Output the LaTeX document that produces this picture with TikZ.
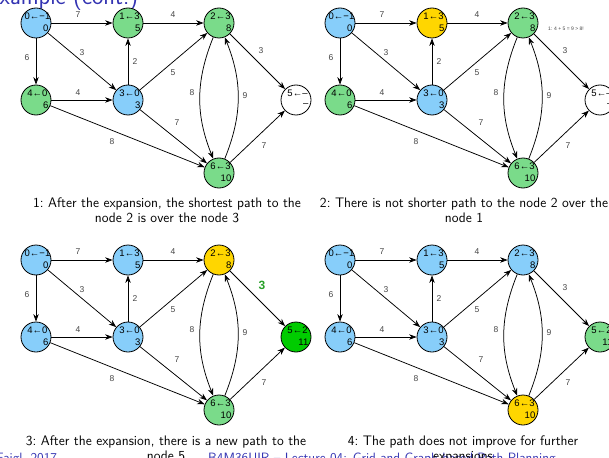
\documentclass[tikz,border=0pt]{standalone}
\usepackage{fontspec}
\newfontfamily\graphfont{Liberation Sans}
\usetikzlibrary{arrows.meta,calc}

\definecolor{vblue}{RGB}{135,206,250}
\definecolor{vgreen}{RGB}{122,219,138}
\definecolor{vgold}{RGB}{255,214,0}
\definecolor{vlime}{RGB}{0,204,0}
\definecolor{hilite}{RGB}{40,160,40}
\definecolor{slideblue}{RGB}{51,51,178}
\definecolor{lblgray}{RGB}{70,70,70}

\tikzset{
  vert/.style={circle,draw=black,line width=0.8pt,minimum size=30pt,inner sep=0pt},
  vtop/.style={font=\graphfont\fontsize{9.5}{10}\selectfont,inner sep=0pt},
  vbot/.style={font=\graphfont\fontsize{9.5}{10}\selectfont,inner sep=0pt,anchor=east},
  link/.style={draw=black,line width=0.75pt,-{Stealth[length=7.5pt,width=5.5pt]}},
  elabel/.style={font=\graphfont\fontsize{8.5}{9}\selectfont,text=lblgray,inner sep=0pt},
  hilabel/.style={font=\graphfont\bfseries\fontsize{12}{12}\selectfont,text=hilite,inner sep=0pt},
  note/.style={font=\graphfont\fontsize{5}{5}\selectfont,text=lblgray,inner sep=0pt},
  capline/.style={font=\sffamily\fontsize{13.8}{15}\selectfont,anchor=base,inner sep=0pt},
  slidetext/.style={text=slideblue,anchor=base west,inner sep=0pt}
}

% one vertex: name, x, y, fill, "id<-parent", cost
\newcommand{\vtx}[6]{%
  \node[vert,fill=#4] (#1) at (#2,#3) {};
  \node[vtop] (#1t) at ($(#1)+(1.5,-7)$) {#5};
  \node[vbot] (#1b) at ($(#1)+(12.5,5.5)$) {#6};
}

% the whole graph; fills and node 5 data come from \def's set before each call
\newcommand{\graphpanel}[3]{%
\begin{scope}[shift={(#2,#3)}]
  \vtx{#1n0}{36}{23}{\fillA}{0←−1}{0}
  \vtx{#1n1}{128}{23}{\fillB}{1←3}{5}
  \vtx{#1n2}{219}{23}{\fillC}{2←3}{8}
  \vtx{#1n3}{128}{100}{\fillD}{3←0}{3}
  \vtx{#1n4}{36}{100}{\fillE}{4←0}{6}
  \vtx{#1n5}{296}{100}{\fillF}{5←\fiveparent}{\fivecost}
  \vtx{#1n6}{219}{173}{\fillG}{6←3}{10}
  \draw[link] (#1n0) -- (#1n1);
  \draw[link] (#1n1) -- (#1n2);
  \draw[link] (#1n0) -- (#1n4);
  \draw[link] (#1n0) -- (#1n3);
  \draw[link] (#1n3) -- (#1n1);
  \draw[link] (#1n4) -- (#1n3);
  \draw[link] (#1n3) -- (#1n2);
  \draw[link] (#1n3) -- (#1n6);
  \draw[link] (#1n4) -- (#1n6);
  \draw[link] (#1n2) to[bend right=22] (#1n6);
  \draw[link] (#1n6) to[bend right=22] (#1n2);
  \draw[link] (#1n2) -- (#1n5);
  \draw[link] (#1n6) -- (#1n5);
  \node[elabel] (#1w01) at (78,15) {7};
  \node[elabel] (#1w12) at (173,15) {4};
  \node[elabel] (#1w04) at (27,58) {6};
  \node[elabel] (#1w03) at (82,53) {3};
  \node[elabel] (#1w31) at (135,62) {2};
  \node[elabel] (#1w43) at (78,93) {4};
  \node[elabel] (#1w32) at (173,73) {5};
  \node[elabel] (#1w36) at (177,123) {7};
  \node[elabel] (#1w46) at (112,142) {8};
  \node[elabel] (#1w26) at (192,93) {8};
  \node[elabel] (#1w62) at (245,96) {9};
  \node[elabel] (#1w65) at (264,146) {7};
\end{scope}}

\begin{document}
\begin{tikzpicture}[x=1pt,y=-1pt]
\useasboundingbox (0,0) rectangle (609,457);
\clip (0,0) rectangle (609,457);

% slide title and footer
\node[slidetext,font=\sffamily\fontsize{24}{24}\selectfont] (title) at (-14,5) {Example (cont.)};
\node[slidetext,font=\sffamily\fontsize{13.5}{13.5}\selectfont] (footleft) at (-4,462) {Faigl, 2017};
\node[slidetext,font=\sffamily\fontsize{13.5}{13.5}\selectfont] (footmid) at (208,462) {B4M36UIR – Lecture 04: Grid and Graph based Path Planning};

% step 1
\def\fillA{vblue}\def\fillB{vgreen}\def\fillC{vgreen}\def\fillD{vblue}
\def\fillE{vgreen}\def\fillF{white}\def\fillG{vgreen}
\def\fiveparent{–}\def\fivecost{–}
\graphpanel{a}{0}{0}
\node[elabel] (aw25) at (261,51) {3};
\node[capline] (cap1a) at (167,207) {1:\ After the expansion, the shortest path to the};
\node[capline] (cap1b) at (167,222) {node 2 is over the node 3};

% step 2
\def\fillB{vgold}
\graphpanel{b}{304}{0}
\node[elabel] (bw25) at (565,51) {3};
\node[note] (bnote) at (566,29) {1: 4 + 5 = 9 > 8!};
\node[capline] (cap2a) at (464,207) {2:\ There is not shorter path to the node 2 over the};
\node[capline] (cap2b) at (464,222) {node 1};

% step 3
\def\fillB{vblue}\def\fillC{vgold}\def\fillE{vblue}\def\fillF{vlime}
\def\fiveparent{2}\def\fivecost{11}
\graphpanel{c}{0}{237}
\node[hilabel] (cw25) at (262,285) {3};
\node[capline] (cap3a) at (166,445) {3:\ After the expansion, there is a new path to the};
\node[capline] (cap3b) at (166,460) {node 5};

% step 4
\def\fillC{vblue}\def\fillF{vgreen}\def\fillG{vgold}
\graphpanel{d}{304}{237}
\node[elabel] (dw25) at (565,288) {3};
\node[capline] (cap4a) at (463,445) {4:\ The path does not improve for further};
\node[capline] (cap4b) at (463,460) {expansions};
\end{tikzpicture}
\end{document}
